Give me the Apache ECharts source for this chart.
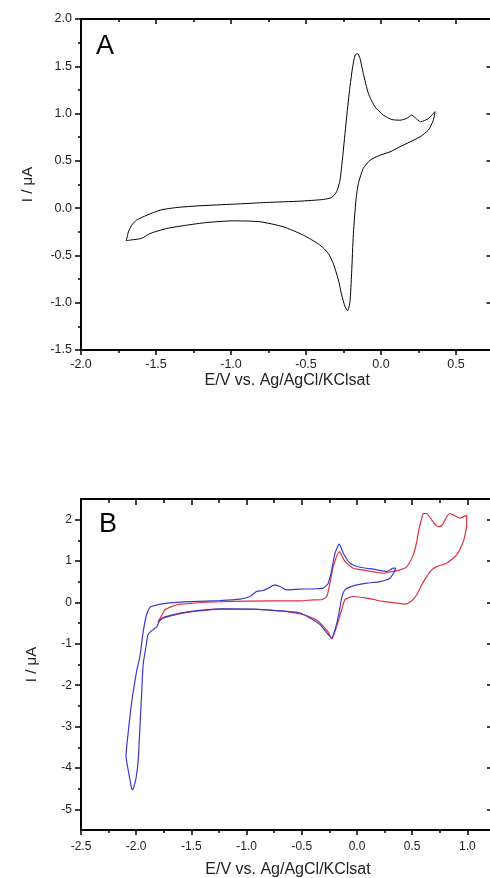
<!DOCTYPE html>
<html><head><meta charset="utf-8">
<script src="https://cdn.jsdelivr.net/npm/echarts@6/dist/echarts.min.js"></script>
<style>html,body{margin:0;padding:0;background:#fff}#c{width:490px;height:878px}</style>
</head><body><div id="c"></div>
<script>
// ---------- Panel A : single CV (black) ----------
const aE = [0.36,0.316,0.264,0.227,0.204,0.171,0.127,0.071,0.016,-0.04,-0.084,-0.118,-0.14,-0.156,-0.173,-0.189,-0.207,-0.229,-0.251,-0.273,-0.296,-0.329,-0.384,-0.54,-0.762,-0.984,-1.207,-1.36,-1.47,-1.56,-1.63,-1.662,-1.684,-1.696,-1.70,
  -1.66,-1.607,-1.584,-1.54,-1.429,-1.296,-1.162,-0.984,-0.807,-0.651,-0.518,-0.407,-0.351,-0.318,-0.284,-0.262,-0.24,-0.222,-0.207,-0.196,-0.184,-0.167,-0.151,-0.118,-0.073,-0.007,0.06,0.127,0.193,0.26,0.316,0.349,0.36];
const aI = [1.02,0.948,0.913,0.958,0.983,0.948,0.93,0.937,0.983,1.071,1.212,1.424,1.582,1.635,1.617,1.494,1.283,0.965,0.613,0.296,0.173,0.113,0.092,0.074,0.06,0.042,0.025,0.007,-0.02,-0.074,-0.127,-0.18,-0.25,-0.33,-0.345,
  -0.335,-0.324,-0.31,-0.268,-0.215,-0.18,-0.152,-0.134,-0.144,-0.197,-0.285,-0.39,-0.48,-0.585,-0.76,-0.92,-1.04,-1.085,-0.99,-0.69,-0.27,0.085,0.26,0.42,0.507,0.56,0.595,0.65,0.70,0.754,0.825,0.93,1.02];

// ---------- Panel B : blue CV ----------
const bBlueE = [0.351,0.329,0.269,0.148,0.027,-0.063,-0.124,-0.16,-0.199,-0.229,-0.26,-0.305,-0.4,-0.516,-0.637,-0.697,-0.743,-0.803,-0.849,-0.909,-0.969,-1.06,-1.241,-1.5,-1.7,-1.81,-1.875,-1.91,-1.938,-1.966,-1.993,-2.041,-2.072,-2.092,-2.086,-2.063,-2.041,-2.034,-2.026,-2.002,-1.981,-1.966,-1.95,-1.937,-1.911,-1.893,-1.848,-1.812,-1.793,-1.757,-1.6,-1.45,-1.241,-0.939,-0.637,-0.516,-0.426,-0.335,-0.26,-0.229,-0.199,-0.169,-0.139,-0.109,-0.033,0.088,0.208,0.299,0.338,0.351];
const bBlueI = [0.827,0.83,0.75,0.803,0.851,0.947,1.19,1.41,1.19,0.786,0.466,0.346,0.33,0.32,0.305,0.385,0.425,0.346,0.289,0.265,0.144,0.08,0.045,0.02,-0.01,-0.06,-0.12,-0.34,-0.73,-1.3,-1.62,-2.41,-3.13,-3.71,-3.85,-4.19,-4.5,-4.53,-4.5,-4.26,-3.78,-2.99,-2.17,-1.5,-1.065,-0.776,-0.656,-0.584,-0.464,-0.368,-0.26,-0.2,-0.155,-0.16,-0.216,-0.255,-0.375,-0.536,-0.776,-0.856,-0.656,-0.337,0.106,0.305,0.401,0.466,0.505,0.586,0.745,0.827];

// ---------- Panel B : red CV ----------
const bRedE = [0.994,0.933,0.872,0.842,0.812,0.782,0.752,0.722,0.677,0.631,0.60,0.586,0.56,0.54,0.51,0.45,0.39,0.314,0.238,0.088,-0.033,-0.109,-0.16,-0.215,-0.245,-0.274,-0.32,-0.396,-0.516,-0.788,-1.241,-1.5,-1.63,-1.739,-1.775,-1.803,-1.757,-1.6,-1.45,-1.241,-0.939,-0.637,-0.5,-0.365,-0.26,-0.229,-0.215,-0.184,-0.139,-0.109,-0.033,0.088,0.238,0.36,0.435,0.496,0.541,0.586,0.631,0.677,0.722,0.812,0.903,0.963,0.994,0.994];
const bRedI = [2.11,2.04,2.11,2.15,2.07,1.91,1.83,1.85,1.99,2.15,2.15,2.03,1.75,1.45,1.15,0.86,0.786,0.745,0.706,0.77,0.827,0.986,1.226,0.866,0.466,0.144,0.065,0.06,0.04,0.04,0.017,-0.02,-0.055,-0.176,-0.344,-0.464,-0.38,-0.27,-0.21,-0.16,-0.165,-0.22,-0.285,-0.43,-0.72,-0.88,-0.817,-0.577,-0.176,0.065,0.144,0.106,0.024,-0.015,-0.04,0.04,0.185,0.425,0.625,0.786,0.866,0.947,1.15,1.47,1.87,2.11];

// ---------- tick values ----------
const aXMajor = [-2.0,-1.5,-1.0,-0.5,0.0,0.5];
const aXMinor = [-1.75,-1.25,-0.75,-0.25,0.25];
const aYMajor = [-1.5,-1.0,-0.5,0.0,0.5,1.0,1.5,2.0];
const aYMinor = [-1.25,-0.75,-0.25,0.25,0.75,1.25,1.75];
const bXMajor = [-2.5,-2.0,-1.5,-1.0,-0.5,0.0,0.5,1.0];
const bXMinor = [-2.25,-1.75,-1.25,-0.75,-0.25,0.25,0.75];
const bYMajor = [-5,-4,-3,-2,-1,0,1,2];
const bYMinor = [-4.5,-3.5,-2.5,-1.5,-0.5,0.5,1.5];

const xTitle = 'E/V vs. Ag/AgCl/KClsat';
const yTitle = 'I / μA';
const FONT = '"Liberation Sans", Arial, sans-serif';

const pts = (xs, ys) => xs.map((x, i) => [x, ys[i]]);
const f1 = v => v.toFixed(1);
const f0 = v => String(Math.round(v));

function mainAxis(grid, pos, min, max, majors, fmt, fs, margin, name, nameGap, nameFs, tickLen) {
  return {
    type: 'value', gridIndex: grid, position: pos, min: min, max: max,
    axisLine: {show: true, onZero: false, lineStyle: {color: '#000', width: 2}},
    axisTick: {show: true, inside: false, length: tickLen, customValues: majors, lineStyle: {color: '#000', width: 1.5}},
    axisLabel: {show: true, customValues: majors, formatter: fmt, margin: margin, color: '#222', fontSize: fs, fontFamily: FONT},
    splitLine: {show: false},
    name: name, nameLocation: 'middle', nameGap: nameGap,
    nameTextStyle: {color: '#222', fontSize: nameFs, fontFamily: FONT}
  };
}
function tickAxis(grid, pos, min, max, vals, len, inside, showLine) {
  return {
    type: 'value', gridIndex: grid, position: pos, min: min, max: max,
    axisLine: {show: showLine, onZero: false, lineStyle: {color: '#000', width: 2}},
    axisTick: {show: true, inside: inside, length: len, customValues: vals, lineStyle: {color: '#000', width: 1.5}},
    axisLabel: {show: false},
    splitLine: {show: false}
  };
}

const option = {
  animation: false,
  backgroundColor: '#fff',
  grid: [
    {left: 81, top: 19, width: 412.5, height: 331, containLabel: false, outerBoundsMode: 'none'},
    {left: 81, top: 499, width: 414, height: 331, containLabel: false, outerBoundsMode: 'none'}
  ],
  xAxis: [
    mainAxis(0, 'bottom', -2.0, 0.75, aXMajor, f1, 12.5, 8, xTitle, 23, 16, 5),
    tickAxis(0, 'bottom', -2.0, 0.75, aXMinor, 3, false, false),
    tickAxis(0, 'top', -2.0, 0.75, aXMajor, 5, true, true),
    tickAxis(0, 'top', -2.0, 0.75, aXMinor, 3, true, false),
    mainAxis(1, 'bottom', -2.5, 1.25, bXMajor, f1, 12, 11, xTitle, 32, 16, 5),
    tickAxis(1, 'bottom', -2.5, 1.25, bXMinor, 3, false, false),
    tickAxis(1, 'top', -2.5, 1.25, bXMajor, 6, true, true),
    tickAxis(1, 'top', -2.5, 1.25, bXMinor, 4, true, false)
  ],
  yAxis: [
    mainAxis(0, 'left', -1.5, 2.0, aYMajor, f1, 12.5, 9, yTitle, 46, 15, 6),
    tickAxis(0, 'left', -1.5, 2.0, aYMinor, 3, false, false),
    tickAxis(0, 'right', -1.5, 2.0, aYMajor, 7, true, true),
    mainAxis(1, 'left', -5.5, 2.5, bYMajor, f0, 12, 9, yTitle, 42, 15, 6),
    tickAxis(1, 'left', -5.5, 2.5, bYMinor, 3, false, false),
    tickAxis(1, 'right', -5.5, 2.5, bYMajor, 8, true, true)
  ],
  series: [
    {type: 'line', xAxisIndex: 0, yAxisIndex: 0, data: pts(aE, aI), showSymbol: false, smooth: 0.2,
     lineStyle: {color: '#000', width: 1}},
    {type: 'line', xAxisIndex: 4, yAxisIndex: 3, data: pts(bRedE, bRedI), showSymbol: false, smooth: 0.2,
     lineStyle: {color: '#e0303a', width: 1.2}},
    {type: 'line', xAxisIndex: 4, yAxisIndex: 3, data: pts(bBlueE, bBlueI), showSymbol: false, smooth: 0.2,
     lineStyle: {color: '#3a3ad0', width: 1.2}}
  ],
  graphic: [
    {type: 'text', left: 96, top: 33, style: {text: 'A', fontSize: 27, fontFamily: FONT, fill: '#000'}},
    {type: 'text', left: 99, top: 511, style: {text: 'B', fontSize: 27, fontFamily: FONT, fill: '#000'}}
  ]
};
const chart = echarts.init(document.getElementById('c'), null, {renderer: 'canvas'});
chart.setOption(option);
</script>
</body></html>
